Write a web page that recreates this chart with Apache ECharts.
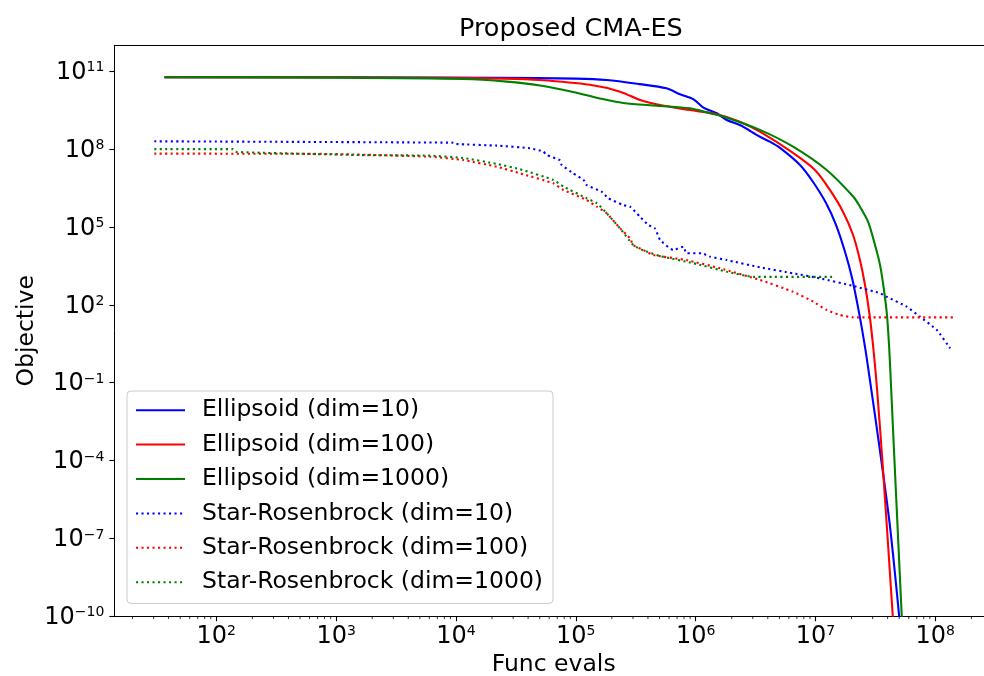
<!DOCTYPE html>
<html>
<head>
<meta charset="utf-8">
<script src="https://cdn.jsdelivr.net/npm/echarts@6/dist/echarts.min.js"></script>
<style>
  html, body { margin: 0; padding: 0; background: #fff; }
  #chart { width: 984px; height: 676px; }
</style>
</head>
<body>
<div id="chart"></div>
<script>
// Convergence of the proposed CMA-ES: objective value against function evaluations (log-log).

const seriesNames = [
  'Ellipsoid (dim=10)',
  'Ellipsoid (dim=100)',
  'Ellipsoid (dim=1000)',
  'Star-Rosenbrock (dim=10)',
  'Star-Rosenbrock (dim=100)',
  'Star-Rosenbrock (dim=1000)'
];
const seriesColors = ['#0000ff', '#ff0000', '#008000', '#0000ff', '#ff0000', '#008000'];

// Ellipsoid, dim = 10
const ell10Evals = [37, 1000, 2.3e4, 1.0e5, 1.81e5, 3.4e5, 5.7e5, 7.4e5, 9.6e5, 1.16e6, 1.5e6, 1.82e6, 2.34e6,
  3.44e6, 4.16e6, 5.06e6, 7.43e6, 9.55e6, 1.225e7, 1.486e7, 1.766e7, 2.02e7, 2.31e7, 2.59e7, 2.85e7, 3.45e7,
  4.19e7, 5.0e7];
const ell10Obj = [5.9e10, 5.85e10, 5.6e10, 5.2e10, 4.6e10, 3.2e10, 2.2e10, 1.3e10, 8.3e9, 4.0e9, 2.4e9, 1.33e9, 8.5e8,
  3.0e8, 1.94e8, 1.11e8, 2.45e7, 5.42e6, 8.4e5, 1.19e5, 1.09e4, 1.08e3, 50, 2.4, 0.122, 2.5e-4,
  2.8e-7, 9.5e-11];

// Ellipsoid, dim = 100
const ell100Evals = [37, 1000, 7.4e3, 2.5e4, 5.0e4, 1.31e5, 2.34e5, 3.44e5, 5.05e5, 8.98e5, 1.5e6, 2.34e6, 3.44e6,
  6.5e6, 9.9e6, 1.32e7, 1.7e7, 2.06e7, 2.35e7, 2.59e7, 2.83e7, 3.05e7, 3.27e7, 3.68e7, 4.42e7];
const ell100Obj = [5.9e10, 5.85e10, 5.6e10, 5.2e10, 4.6e10, 3.0e10, 1.64e10, 7.8e9, 5.0e9, 3.2e9, 2.2e9, 1.14e9, 4.7e8,
  7.1e7, 1.57e7, 2.67e6, 3.8e5, 4.9e4, 5.3e3, 582, 40.6, 1.82, 0.052, 3.2e-5, 9.6e-11];

// Ellipsoid, dim = 1000
const ell1000Evals = [37, 890, 1.15e4, 2.65e4, 5.02e4, 9.5e4, 1.59e5, 2.48e5, 4.73e5, 8.98e5, 1.32e6, 1.7e6, 3.44e6,
  6.5e6, 1.24e7, 2.07e7, 2.35e7, 2.75e7, 3.14e7, 3.46e7, 3.73e7, 3.95e7, 4.11e7, 4.23e7, 4.48e7, 4.8e7, 5.25e7];
const ell1000Obj = [5.9e10, 5.7e10, 5.05e10, 4.0e10, 2.84e10, 1.59e10, 8.95e9, 6.0e9, 4.7e9, 3.75e9, 2.4e9, 1.8e9, 5.5e8,
  1.24e8, 1.57e7, 1.47e6, 6.05e5, 1.56e5, 2.02e4, 3.4e3, 373, 40.6, 2.84, 0.198, 6.2e-4, 6.7e-7, 9.6e-11];

// Star-Rosenbrock, dim = 10
const sr10Evals = [30.4, 9.5e3, 1.0e4, 2.19e4, 4.15e4, 5.36e4, 5.71e4, 7.38e4, 7.62e4, 9.5e4, 1.16e5, 1.23e5, 1.64e5,
  1.87e5, 2.49e5, 2.83e5, 3.43e5, 4.03e5, 4.58e5, 5.05e5, 6.5e5, 7.9e5, 8.4e5, 1.12e6, 1.32e6, 1.82e6, 3.44e6, 6.5e6,
  1.09e7, 2.07e7, 3.46e7, 3.93e7, 5.77e7, 7.45e7, 1.03e8, 1.33e8];
const sr10Obj = [2.0e8, 1.77e8, 1.58e8, 1.36e8, 1.08e8, 8.0e7, 6.0e7, 3.7e7, 2.45e7, 1.17e7, 6.5e6, 4.15e6, 2.3e6,
  1.28e6, 7.0e5, 6.1e5, 2.5e5, 1.19e5, 8.9e4, 3.2e4, 1.3e4, 1.74e4, 9.7e3, 9.7e3, 7.2e3, 5.3e3, 2.8e3, 1.64e3,
  1.05e3, 533, 279, 206, 85, 35, 10.7, 2.1];

// Star-Rosenbrock, dim = 100
const sr100Evals = [30.4, 890, 6.07e3, 1.15e4, 2.19e4, 3.42e4, 6.5e4, 7.9e4, 1.23e5, 1.5e5, 1.81e5, 2.34e5, 2.83e5,
  3.02e5, 3.66e5, 4.43e5, 8.4e5, 1.6e6, 3.44e6, 6.5e6, 9.6e6, 1.24e7, 1.6e7, 2.07e7, 1.41e8];
const sr100Obj = [6.7e7, 6.5e7, 5.1e7, 3.8e7, 2.1e7, 1.17e7, 4.8e6, 2.67e6, 1.1e6, 6.05e5, 3.4e5, 8.9e4, 3.7e4,
  2.0e4, 1.3e4, 8.3e3, 5.3e3, 2.56e3, 908, 321, 132, 63, 40.6, 33, 33];

// Star-Rosenbrock, dim = 1000
const sr1000Evals = [30.4, 138, 145, 1.58e3, 6.07e3, 1.15e4, 2.19e4, 3.42e4, 6.5e4, 7.9e4, 1.23e5, 1.5e5, 1.81e5,
  2.34e5, 3.02e5, 3.66e5, 5.05e5, 9.6e5, 1.82e6, 3.03e6, 1.46e7];
const sr1000Obj = [1.0e8, 1.0e8, 7.8e7, 5.9e7, 5.6e7, 4.56e7, 2.68e7, 1.68e7, 6.5e6, 3.6e6, 1.28e6, 8.2e5, 3.4e5,
  8.9e4, 2.0e4, 1.25e4, 7.6e3, 4.0e3, 1.9e3, 1.2e3, 1.2e3];

// Axis ranges and major tick spacing (in decades)
const xRange = [14.09, 3.03e8];
const yRange = [1e-10, 1e12];
const yTickStepDecades = 3;

// Minor x ticks at 2..9 x 10^k inside the x range
const xMinorTicks = [];
for (let k = 1; k <= 8; k++) {
  for (let m = 2; m <= 9; m++) {
    const v = m * Math.pow(10, k);
    if (v > xRange[0] && v < xRange[1]) xMinorTicks.push(v);
  }
}

const FONT = 'DejaVu Sans';
const evalSets = [ell10Evals, ell100Evals, ell1000Evals, sr10Evals, sr100Evals, sr1000Evals];
const objSets = [ell10Obj, ell100Obj, ell1000Obj, sr10Obj, sr100Obj, sr1000Obj];

function pairs(xs, ys) {
  return xs.map((x, i) => [x, ys[i]]);
}

function powerLabel(v) {
  const e = Math.round(Math.log10(v));
  const exp = e < 0 ? '\u2212' + (-e) : String(e);
  return '{b|10}{s|' + exp + '}';
}

const labelRich = {
  b: { fontFamily: FONT, fontSize: 24, lineHeight: 24, color: '#000' },
  s: { fontFamily: FONT, fontSize: 14, lineHeight: 14, color: '#000', verticalAlign: 'top' }
};

const series = seriesNames.map((name, i) => ({
  name: name,
  type: 'line',
  data: pairs(evalSets[i], objSets[i]),
  symbol: 'none',
  showSymbol: false,
  smooth: i < 3 ? 0.3 : 0.15,
  clip: true,
  animation: false,
  color: seriesColors[i],
  lineStyle: i < 3
    ? { color: seriesColors[i], width: 2.1, type: 'solid' }
    : { color: seriesColors[i], width: 2.1, type: [2.1, 3.4], cap: 'butt' },
  emphasis: { disabled: true }
}));

// Minor tick marks below the x axis, placed through the axis scale
series.push({
  name: 'xMinorTicks',
  type: 'custom',
  silent: true,
  animation: false,
  clip: false,
  data: xMinorTicks.map(v => [v, yRange[0]]),
  encode: { x: 0, y: 1 },
  renderItem: function (params, api) {
    const p = api.coord([api.value(0), api.value(1)]);
    return {
      type: 'line',
      shape: { x1: p[0], y1: p[1], x2: p[0], y2: p[1] + 2.8 },
      style: { stroke: '#000', lineWidth: 0.8 }
    };
  }
});

const axisLineStyle = { show: true, lineStyle: { color: '#000', width: 1 } };

const chart = echarts.init(document.getElementById('chart'), null, { renderer: 'canvas' });
chart.setOption({
  backgroundColor: '#ffffff',
  animation: false,
  title: {
    text: 'Proposed CMA-ES',
    left: 459,
    top: 16,
    padding: 0,
    textStyle: { fontFamily: FONT, fontSize: 25.5, fontWeight: 'normal', color: '#000' }
  },
  grid: {
    left: 114.3,
    top: 45.3,
    width: 878.7,
    height: 571,
    containLabel: false,
    outerBoundsMode: 'none',
    show: false
  },
  legend: {
    data: seriesNames,
    orient: 'vertical',
    left: 127,
    top: 391,
    padding: [2, 10, 4, 8],
    itemWidth: 49,
    itemHeight: 14,
    itemGap: 0,
    itemStyle: { opacity: 0 },
    backgroundColor: 'rgba(255,255,255,0.8)',
    borderColor: '#cccccc',
    borderWidth: 1,
    borderRadius: 4,
    selectedMode: false,
    textStyle: { fontFamily: FONT, fontSize: 23.5, color: '#000', lineHeight: 34.4, padding: [0, 0, 0, 12] }
  },
  xAxis: [{
    type: 'log',
    logBase: 10,
    min: xRange[0],
    max: xRange[1],
    name: 'Func evals',
    nameLocation: 'middle',
    nameGap: 34,
    nameTextStyle: { fontFamily: FONT, fontSize: 23.5, color: '#000' },
    axisLine: axisLineStyle,
    axisTick: { show: true, inside: false, length: 4.9, lineStyle: { color: '#000', width: 1.1 } },
    minorTick: { show: false },
    splitLine: { show: false },
    axisLabel: {
      margin: 8,
      showMinLabel: false,
      showMaxLabel: false,
      formatter: powerLabel,
      rich: labelRich
    }
  }, {
    // top frame edge
    type: 'log',
    logBase: 10,
    position: 'top',
    min: xRange[0],
    max: xRange[1],
    axisLine: axisLineStyle,
    axisTick: { show: false },
    axisLabel: { show: false },
    splitLine: { show: false }
  }],
  yAxis: {
    type: 'log',
    logBase: 10,
    min: yRange[0],
    max: yRange[1],
    interval: yTickStepDecades,
    name: 'Objective',
    nameLocation: 'middle',
    nameGap: 75,
    nameMoveOverlap: false,
    nameTextStyle: { fontFamily: FONT, fontSize: 23.5, color: '#000' },
    axisLine: axisLineStyle,
    axisTick: { show: true, inside: false, length: 4.9, lineStyle: { color: '#000', width: 1.1 } },
    splitLine: { show: false },
    axisLabel: {
      margin: 10,
      showMinLabel: true,
      showMaxLabel: false,
      padding: [3, 0, 0, 0],
      formatter: powerLabel,
      rich: labelRich
    }
  },
  series: series
});
</script>
</body>
</html>
